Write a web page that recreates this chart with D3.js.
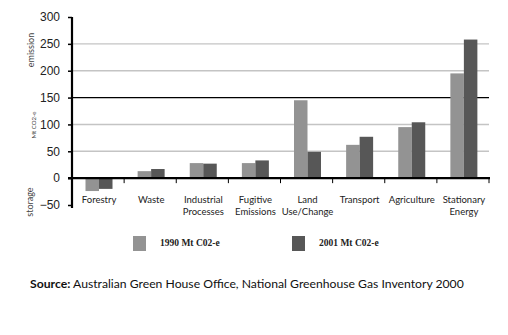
<!DOCTYPE html>
<html>
<head>
<meta charset="utf-8">
<script src="https://cdn.jsdelivr.net/npm/d3@7"></script>
<style>
  body { margin: 0; background: #fff; }
  svg { display: block; font-family: Lato, "Open Sans", sans-serif; }
</style>
</head>
<body>
<div id="chart"></div>
<script>
const width = 508;
const height = 335;

// Données (Mt CO2-e)
const categories = [
  ["Forestry"], ["Waste"], ["Industrial", "Processes"], ["Fugitive", "Emissions"],
  ["Land", "Use/Change"], ["Transport"], ["Agriculture"], ["Stationary", "Energy"]
];
const series = ["1990 Mt C02-e", "2001 Mt C02-e"];
const values1990 = [-24, 13, 28, 28, 145, 62, 95, 195];
const values2001 = [-20, 17, 27, 33, 49, 77, 104, 258];
const yTicks = [-50, 0, 50, 100, 150, 200, 250, 300];
const gridTicks = [50, 100, 150, 200, 250];
const colors = ["#939393", "#575757"];

const svg = d3.select("#chart").append("svg")
    .attr("width", width)
    .attr("height", height);

const keys = categories.map(c => c.join(" "));

const x = d3.scaleBand().domain(keys).range([72, 489]).padding(0);
const x1 = d3.scaleBand().domain(series).range([13.5, 40.5]).padding(0);
const y = d3.scaleLinear().domain([-50, 300]).range([205, 17]);

// Grille
svg.append("g").selectAll("line")
    .data(gridTicks)
    .join("line")
    .attr("x1", 72).attr("x2", 489)
    .attr("y1", d => y(d)).attr("y2", d => y(d))
    .attr("stroke", d => d === 150 ? "#000" : "#c4c4c4")
    .attr("stroke-width", d => d === 150 ? 1.2 : 1.4);

// Barres
const data = keys.map((k, i) => ({ key: k, vals: [values1990[i], values2001[i]] }));
svg.append("g").selectAll("g")
    .data(data)
    .join("g")
    .attr("transform", d => `translate(${x(d.key)},0)`)
    .selectAll("rect")
    .data(d => d.vals.map((v, j) => ({ s: series[j], v, j })))
    .join("rect")
    .attr("x", d => x1(d.s))
    .attr("width", x1.bandwidth())
    .attr("y", d => y(Math.max(0, d.v)))
    .attr("height", d => Math.abs(y(d.v) - y(0)))
    .attr("fill", d => colors[d.j]);

// Axe Y
const yAxis = svg.append("g")
    .attr("transform", "translate(72,0)")
    .call(d3.axisLeft(y).tickValues(yTicks).tickSize(4).tickPadding(8));
yAxis.select(".domain").attr("stroke-width", 2.2).attr("d", `M0,${y(300)}V208`);
yAxis.selectAll(".tick line").attr("stroke-width", 1.5);
yAxis.selectAll("text").attr("font-size", 12).attr("fill", "#222");

// Axe X (à zéro)
const xAxis = svg.append("g")
    .attr("transform", `translate(0,${y(0)})`);
xAxis.append("line")
    .attr("x1", 68).attr("x2", 490)
    .attr("stroke", "#000").attr("stroke-width", 2.4);
xAxis.selectAll(".sep")
    .data(keys)
    .join("line")
    .attr("class", "sep")
    .attr("x1", d => x(d) + x.bandwidth()).attr("x2", d => x(d) + x.bandwidth())
    .attr("y1", 0).attr("y2", 5)
    .attr("stroke", "#000").attr("stroke-width", 1);

// Libellés des catégories
svg.append("g").selectAll("text")
    .data(categories)
    .join("text")
    .attr("x", (d, i) => x(keys[i]) + x.bandwidth() / 2 + 1)
    .attr("y", 203)
    .attr("text-anchor", "middle")
    .attr("font-size", 9.5)
    .attr("fill", "#222")
    .selectAll("tspan")
    .data(d => d)
    .join("tspan")
    .attr("x", function() { return d3.select(this.parentNode).attr("x"); })
    .attr("dy", (d, i) => i === 0 ? 0 : 12)
    .text(d => d);

// Titres de l'axe Y
const yLabels = [
  { t: "emission", cx: 31, cy: 50, size: 9 },
  { t: "Mt CO2-e", cx: 34, cy: 125, size: 6 },
  { t: "storage", cx: 30, cy: 202, size: 9 }
];
svg.append("g").selectAll("text")
    .data(yLabels)
    .join("text")
    .attr("transform", d => `translate(${d.cx},${d.cy}) rotate(-90)`)
    .attr("text-anchor", "middle")
    .attr("dy", "0.35em")
    .attr("font-size", d => d.size)
    .attr("fill", "#444")
    .text(d => d.t);

// Légende
const legend = svg.append("g").selectAll("g")
    .data(series)
    .join("g")
    .attr("transform", (d, i) => `translate(${133 + i * 159},236)`);
legend.append("rect")
    .attr("width", 13).attr("height", 15)
    .attr("fill", (d, i) => colors[i]);
legend.append("text")
    .attr("x", 27).attr("y", 10)
    .attr("font-family", "'Liberation Serif', serif")
    .attr("font-weight", "bold")
    .attr("font-size", 9.5)
    .attr("fill", "#222")
    .text(d => d);

// Source
const src = svg.append("text")
    .attr("x", 30).attr("y", 288)
    .attr("font-size", 12.2)
    .attr("fill", "#111");
src.append("tspan").attr("font-weight", "bold").text("Source:");
src.append("tspan").text(" Australian Green House Office, National Greenhouse Gas Inventory 2000");
</script>
</body>
</html>
